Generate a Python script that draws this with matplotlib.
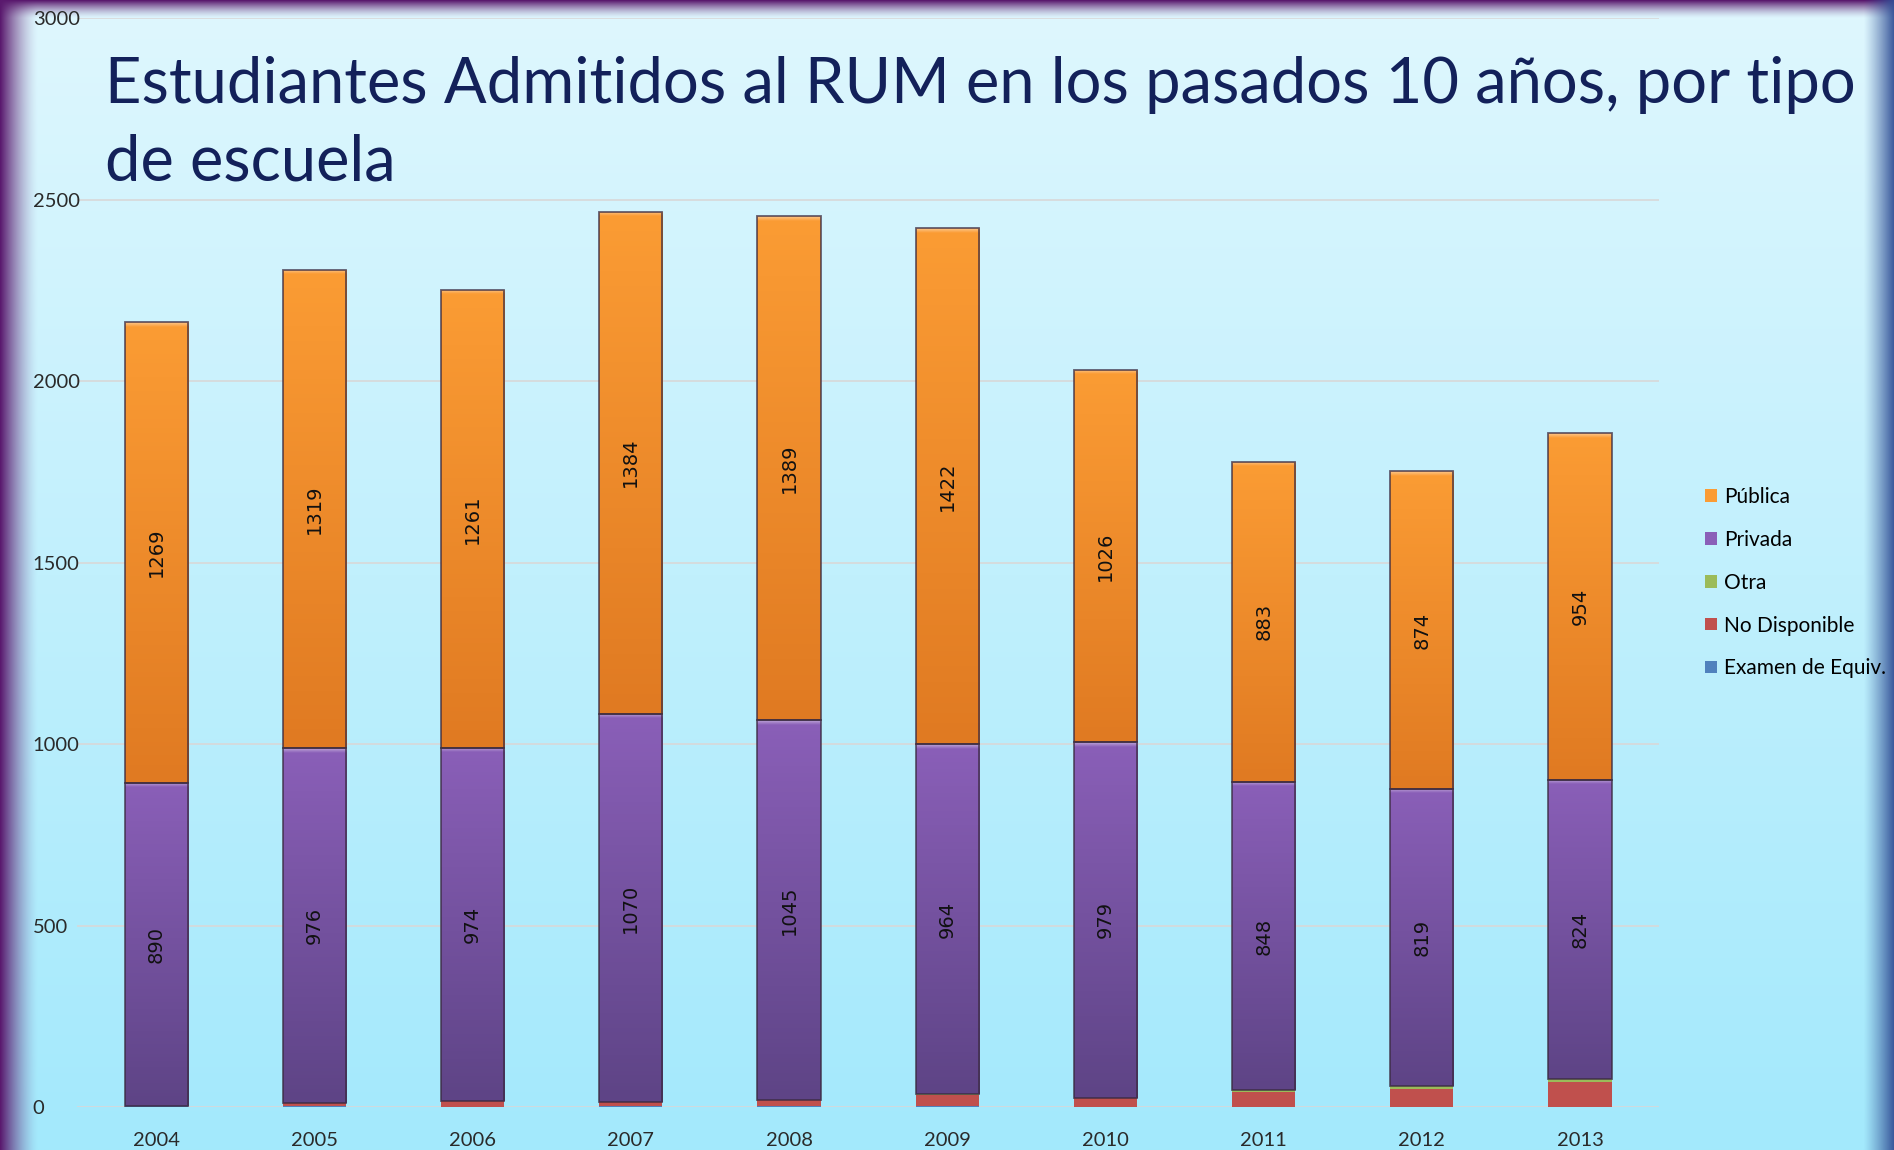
import numpy as np
import matplotlib.pyplot as plt
import matplotlib.colors as mcolors
from matplotlib.patches import Patch

years = ['2004', '2005', '2006', '2007', '2008', '2009', '2010', '2011', '2012', '2013']
examen = [2, 3, 1, 2, 2, 2, 1, 1, 1, 1]
no_disp = [1, 9, 15, 11, 18, 30, 25, 40, 48, 69]
otra = [0, 0, 0, 0, 0, 3, 0, 6, 9, 8]
privada = [890, 976, 974, 1070, 1045, 964, 979, 848, 819, 824]
publica = [1269, 1319, 1261, 1384, 1389, 1422, 1026, 883, 874, 954]

series = [
    ('Examen de Equiv.', examen, '#4f81bd', '#4f81bd'),
    ('No Disponible', no_disp, '#c0504d', '#c0504d'),
    ('Otra', otra, '#9bbb59', '#9bbb59'),
    ('Privada', privada, '#8a5fb8', '#5e4486'),
    ('Pública', publica, '#fb9c34', '#e07a22'),
]

plt.rcParams['font.family'] = ['Lato', 'DejaVu Sans']

fig = plt.figure(figsize=(18.94, 11.5), dpi=100)

# slide background: light cyan gradient with purple / blue frame
H, W = 1150, 1894
t = np.linspace(0, 1, H)[:, None]
top = np.array([223, 247, 254]) / 255
bot = np.array([163, 233, 252]) / 255
bg = top[None, None, :] * (1 - t[..., None]) + bot[None, None, :] * t[..., None]
bg = np.repeat(bg, W, axis=1)
xx = np.arange(W)[None, :]
yy = np.arange(H)[:, None]
purple = np.array([90, 25, 110]) / 255
blue = np.array([50, 80, 150]) / 255
wl = np.clip(1 - xx / 38.0, 0, 1) ** 1.5
wt = np.clip(1 - yy / 18.0, 0, 1) ** 1.5
wr = np.clip((xx - 1862) / 32.0, 0, 1) ** 1.2
wl = np.broadcast_to(wl, (H, W))[..., None]
wt = np.broadcast_to(wt, (H, W))[..., None]
wr = np.broadcast_to(wr, (H, W))[..., None]
bg = bg * (1 - wl) + purple * wl
bg = bg * (1 - wt) + purple * wt
bg = bg * (1 - wr) + blue * wr
bax = fig.add_axes([0, 0, 1, 1], zorder=-10)
bax.imshow(bg, aspect='auto', extent=(0, 1, 0, 1), origin='upper')
bax.axis('off')

ax = fig.add_axes([0.0407, 0.0374, 0.876 - 0.0407, 0.9843 - 0.0374])
ax.patch.set_alpha(0)
x = np.arange(len(years))
bottom = np.zeros(len(years))
for name, vals, light, dark in series:
    vals = np.array(vals, dtype=float)
    shaded = name in ('Privada', 'Pública')
    bars = ax.bar(x, vals, width=0.4, bottom=bottom,
                  facecolor='none' if shaded else light,
                  edgecolor=mcolors.to_rgba('#3a2a40', 0.75) if shaded else 'none',
                  linewidth=1.3, zorder=4, label=name)
    if shaded:
        cmap = mcolors.LinearSegmentedColormap.from_list(name, [dark, light])
        hi = mcolors.LinearSegmentedColormap.from_list(name + 'h', [light, '#ffffff'])
        for b in bars:
            grad = np.linspace(0, 1, 100)[:, None]
            im = ax.imshow(grad, cmap=cmap, aspect='auto', origin='lower',
                           extent=(b.get_x(), b.get_x() + b.get_width(),
                                   b.get_y(), b.get_y() + b.get_height()),
                           zorder=3.5)
            im.set_clip_path(b)
            # bevel highlight along the top of each segment
            band = min(12, b.get_height() * 0.5)
            im2 = ax.imshow(np.linspace(0, 0.45, 20)[:, None], cmap=hi, aspect='auto',
                            origin='lower', vmin=0, vmax=1,
                            extent=(b.get_x(), b.get_x() + b.get_width(),
                                    b.get_y() + b.get_height() - band,
                                    b.get_y() + b.get_height()),
                            zorder=3.6)
            im2.set_clip_path(b)
        for b, v in zip(bars, vals):
            ax.text(b.get_x() + b.get_width() / 2, b.get_y() + b.get_height() / 2,
                    f'{int(v)}', rotation=90, ha='center', va='center',
                    fontsize=14, color='#111111', zorder=5, family='DejaVu Sans')
    bottom += vals

ax.set_xlim(-0.5, 9.5)
ax.set_ylim(0, 3000)
ax.set_yticks(np.arange(0, 3001, 500))
ax.set_xticks(x)
ax.set_xticklabels(years)
ax.grid(axis='y', color='#d8d8d8', linewidth=1.2, zorder=0)
ax.set_axisbelow(True)
for s in ax.spines.values():
    s.set_visible(False)
ax.tick_params(length=0, labelsize=14.5, colors='#2a2a2a')
ax.tick_params(axis='y', pad=32)
ax.tick_params(axis='x', pad=18)
for lbl in ax.get_yticklabels():
    lbl.set_horizontalalignment('left')

handles = [Patch(facecolor=c, edgecolor='none') for _, _, c, _ in reversed(series)]
labels = [n for n, _, _, _ in reversed(series)]
leg = fig.legend(handles, labels, loc='upper left', bbox_to_anchor=(0.8905, 0.593),
                 frameon=False, fontsize=15, handlelength=0.55, handleheight=0.55,
                 handletextpad=0.35, labelspacing=1.1)

fig.text(0.0555, 0.91, 'Estudiantes Admitidos al RUM en los pasados 10 años, por tipo',
         fontsize=45.5, color='#13215a', ha='left', va='baseline')
fig.text(0.0555, 0.843, 'de escuela', fontsize=45.5, color='#13215a', ha='left', va='baseline')

fig.savefig('out.png', dpi=100)
